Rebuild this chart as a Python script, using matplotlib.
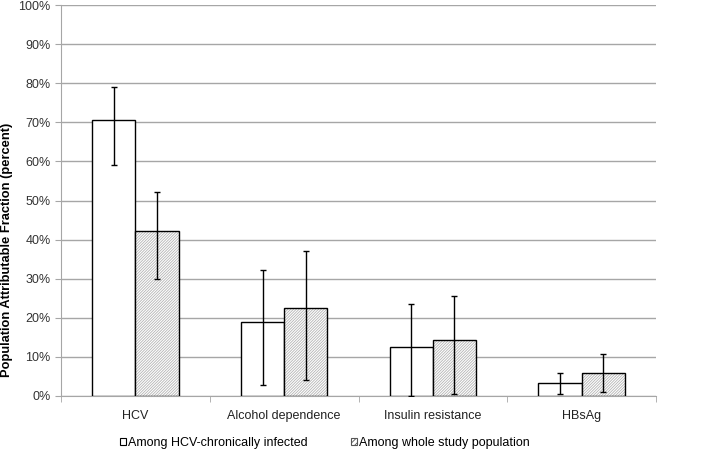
import numpy as np
import matplotlib.pyplot as plt
from matplotlib.patches import Patch
from matplotlib.ticker import PercentFormatter, FixedLocator

plt.rcParams['font.family'] = ['Liberation Sans', 'DejaVu Sans']
plt.rcParams['hatch.linewidth'] = 0.6

# ==== Dane ====
categories = ["HCV", "Alcohol dependence", "Insulin resistance", "HBsAg"]
series_names = ["Among HCV-chronically infected", "Among whole study population"]

hcv_infected = [70.6, 19.0, 12.6, 3.3]
hcv_low = [59.2, 2.8, 0.0, 0.6]
hcv_high = [79.0, 32.3, 23.5, 6.0]

whole_pop = [42.1, 22.4, 14.3, 6.0]
whole_low = [29.9, 4.1, 0.5, 0.9]
whole_high = [52.2, 37.1, 25.7, 10.7]

# ==== Wykres ====
fig = plt.figure(figsize=(7.19, 4.54), dpi=100)
ax = fig.add_axes([61 / 719, 1 - 396 / 454, 595 / 719, 391 / 454])

x = np.arange(len(categories))
w = 0.29

err1 = [np.array(hcv_infected) - np.array(hcv_low), np.array(hcv_high) - np.array(hcv_infected)]
err2 = [np.array(whole_pop) - np.array(whole_low), np.array(whole_high) - np.array(whole_pop)]

ax.bar(x - w / 2, hcv_infected, w, color='white', edgecolor='black', linewidth=1.0, zorder=3)
# kreskowanie w szarym kolorze, obramowanie osobno na czarno
ax.bar(x + w / 2, whole_pop, w, color='white', edgecolor='#b4b4b4', hatch='////////////', linewidth=0, zorder=3)
ax.bar(x + w / 2, whole_pop, w, fill=False, edgecolor='black', linewidth=1.0, zorder=4)

ax.errorbar(x - w / 2, hcv_infected, yerr=err1, fmt='none', ecolor='black', elinewidth=1.0, capsize=2.5, zorder=5)
ax.errorbar(x + w / 2, whole_pop, yerr=err2, fmt='none', ecolor='black', elinewidth=1.0, capsize=2.5, zorder=5)

ax.set_xlim(-0.5, len(categories) - 0.5)
ax.set_ylim(0, 100)
ax.set_yticks(np.arange(0, 101, 10))
ax.yaxis.set_major_formatter(PercentFormatter(decimals=0))
ax.grid(axis='y', color='#a6a6a6', linewidth=1.0, zorder=0)

ax.set_xticks(x)
ax.set_xticklabels(categories)
ax.xaxis.set_minor_locator(FixedLocator(np.arange(-0.5, len(categories), 1)))
ax.tick_params(axis='x', which='major', length=0, pad=10, labelsize=9, labelcolor='#222222')
ax.tick_params(axis='x', which='minor', length=4, color='#a6a6a6')
ax.tick_params(axis='y', length=4, color='#a6a6a6', labelsize=9, labelcolor='#333333')

ax.spines['top'].set_visible(False)
ax.spines['right'].set_visible(False)
ax.spines['left'].set_color('#a6a6a6')
ax.spines['bottom'].set_color('#a6a6a6')

ax.set_ylabel("Population Attributable Fraction (percent)", fontsize=9.3, fontweight='bold',
              va='center')
ax.yaxis.set_label_coords((7 - 61) / 595, (396 - 250) / 391)

# legenda: dwa osobne wpisy pod osią
handles = [Patch(facecolor='white', edgecolor='black', linewidth=0.8),
           Patch(facecolor='white', edgecolor='#555555', hatch='//////', linewidth=0.8)]
for h, name, xpos in zip(handles, series_names, [120, 351]):
    fig.legend([h], [name], loc='center left', bbox_to_anchor=(xpos / 719, 1 - 443 / 454),
               frameon=False, fontsize=9, handlelength=0.45, handleheight=0.45,
               handletextpad=0.2, borderpad=0, borderaxespad=0)

fig.savefig("out.png", dpi=100)
